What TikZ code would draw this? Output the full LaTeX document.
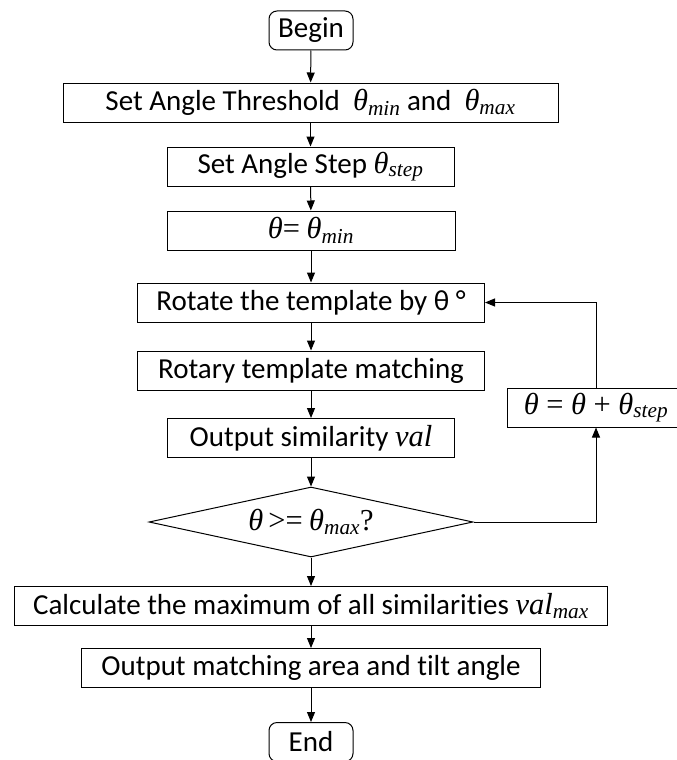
\documentclass[tikz,border=0pt]{standalone}
\usepackage{fontspec}
\setmainfont[Ligatures=NoCommon]{Carlito}
\newfontfamily\tms[Scale=1.05]{Liberation Serif}
\usetikzlibrary{shapes.geometric}
\usetikzlibrary{arrows.meta}
\newcommand{\ang}{{\tms\itshape θ}}
\newcommand{\var}[1]{{\tms\itshape #1}}
\newcommand{\low}[1]{\textsubscript{\tms\itshape #1}}

\begin{document}
\begin{tikzpicture}[x=1pt,y=-1pt,line width=1pt,>={Triangle[length=10pt,width=8pt]},
  font=\fontsize{29}{35}\selectfont,
  box/.style={draw,rectangle,inner sep=0pt,minimum height=39pt},
  term/.style={draw,rectangle,rounded corners=8pt,inner sep=0pt,minimum width=84pt,minimum height=39pt},
  test/.style={draw,diamond,aspect=4.6,inner sep=0pt,minimum width=324pt,minimum height=70pt}]
\useasboundingbox (0,0) rectangle (677,760);
\node (begin) [term] at (311,30.5) {Begin};
\node (thr) [box,minimum width=495pt] at (310.5,102.5) {Set Angle Threshold \ \ang\low{min} and \ \ang\low{max}};
\node (stp) [box,minimum width=287pt] at (310.5,166.5) {Set Angle Step \ang\low{step}};
\node (init) [box,minimum width=288pt] at (311,230.5) {\ang{\tms=} \ang\low{min}};
\node (rot) [box,minimum width=347pt] at (311,302.5) {Rotate the template by θ °};
\node (match) [box,minimum width=347pt] at (311,370.5) {Rotary template matching};
\node (sim) [box,minimum width=287pt] at (311,438) {Output similarity \var{val}};
\node (chk) [test] at (311,522) {\ang{\tms\,>=} \ang\low{max}{\tms ?}};
\node (calc) [box,minimum width=593pt] at (311,606) {Calculate the maximum of all similarities \var{val}\low{max}};
\node (out) [box,minimum width=459pt] at (311,668) {Output matching area and tilt angle};
\node (end) [term] at (311,742) {End};
\node (inc) [box,minimum width=178pt] at (596,407.5) {\ang{\tms\ = }\ang{\tms\ + }\ang\low{step}};
\draw [->] (begin) -- (thr);
\draw [->] (thr) -- (stp);
\draw [->] (stp) -- (init);
\draw [->] (init) -- (rot);
\draw [->] (rot) -- (match);
\draw [->] (match) -- (sim);
\draw [->] (sim) -- (chk);
\draw [->] (chk) -- (calc);
\draw [->] (calc) -- (out);
\draw [->] (out) -- (end);
\draw [->] (chk.east) -| (inc.south);
\draw [->] (inc.north) |- (rot.east);
\end{tikzpicture}
\end{document}
